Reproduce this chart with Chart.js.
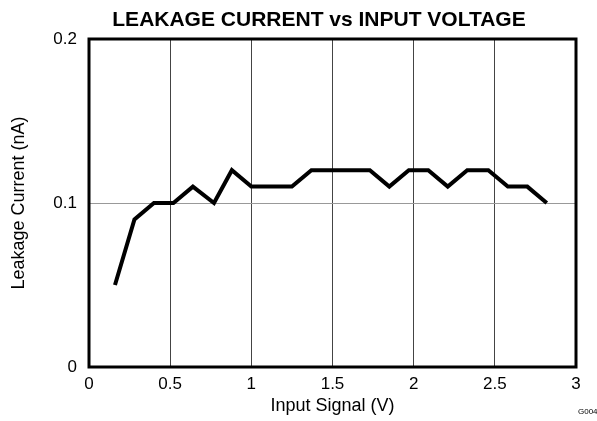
<!DOCTYPE html>
<html>
<head>
<meta charset="utf-8">
<script src="https://cdn.jsdelivr.net/npm/chart.js@4/dist/chart.umd.min.js"></script>
<style>
  body { margin: 0; background: #fff; }
  #wrap { width: 597px; height: 421px; }
</style>
</head>
<body>
<div id="wrap"><canvas id="grafico" width="597" height="421"></canvas></div>
<script>
// valores
const inputSignal = [0.16, 0.28, 0.40, 0.52, 0.64, 0.77, 0.88, 1.00, 1.12, 1.25, 1.37, 1.49, 1.61, 1.73, 1.85, 1.97, 2.09, 2.21, 2.33, 2.46, 2.58, 2.70, 2.82];
const leakage = [0.05, 0.09, 0.10, 0.10, 0.11, 0.10, 0.12, 0.11, 0.11, 0.11, 0.12, 0.12, 0.12, 0.12, 0.11, 0.12, 0.12, 0.11, 0.12, 0.12, 0.11, 0.11, 0.10];

const chartTitle = "LEAKAGE CURRENT vs INPUT VOLTAGE";
const xTitle = "Input Signal (V)";
const yTitle = "Leakage Current (nA)";
const figId = "G004";

const fonte = "'Liberation Sans', Arial, sans-serif";

// titulo, moldura preta e codigo da figura
const frame = {
  id: "frame",
  afterDraw(chart) {
    const { ctx, chartArea: a } = chart;
    ctx.save();
    ctx.strokeStyle = "#000";
    ctx.lineWidth = 3;
    ctx.strokeRect(a.left, a.top, a.right - a.left, a.bottom - a.top);
    ctx.fillStyle = "#000";
    ctx.font = "bold 21px " + fonte;
    ctx.textAlign = "center";
    ctx.textBaseline = "alphabetic";
    ctx.fillText(chartTitle, 319, 26);
    ctx.font = "8px " + fonte;
    ctx.textAlign = "left";
    ctx.textBaseline = "middle";
    ctx.fillText(figId, 578, 412);
    ctx.restore();
  }
};

const fmt = v => String(+Number(v).toFixed(2));

new Chart(document.getElementById("grafico"), {
  type: "line",
  data: {
    datasets: [{
      data: inputSignal.map((x, i) => ({ x: x, y: leakage[i] })),
      borderColor: "#000",
      borderWidth: 4,
      pointRadius: 0,
      tension: 0,
      fill: false
    }]
  },
  options: {
    responsive: false,
    animation: false,
    layout: { padding: { left: 0, right: 21, top: 39, bottom: 0 } },
    plugins: {
      legend: { display: false },
      tooltip: { enabled: false },
      title: { display: false }
    },
    scales: {
      x: {
        type: "linear",
        min: 0,
        max: 3,
        ticks: { stepSize: 0.5, color: "#000", padding: 7, callback: fmt, font: { family: fonte, size: 17 } },
        grid: { color: "#444", lineWidth: 1, drawTicks: false },
        border: { display: false },
        title: { display: true, text: xTitle, color: "#000", font: { family: fonte, size: 18 }, padding: { top: 4, bottom: 4 } },
        afterFit(scale) { scale.height = 54; }
      },
      y: {
        min: 0,
        max: 0.2,
        ticks: { stepSize: 0.1, color: "#000", padding: 12, callback: fmt, font: { family: fonte, size: 17 } },
        grid: { color: "#999", lineWidth: 1, drawTicks: false },
        border: { display: false },
        title: { display: true, text: yTitle, color: "#000", font: { family: fonte, size: 18 }, padding: { top: 8, bottom: 0 } },
        afterFit(scale) { scale.width = 89; }
      }
    }
  },
  plugins: [frame]
});
</script>
</body>
</html>
